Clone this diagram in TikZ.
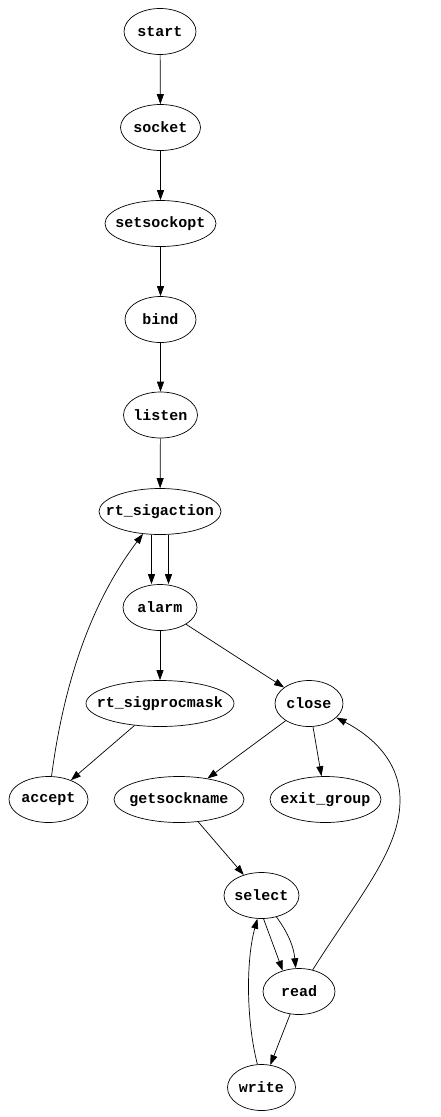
\documentclass[tikz,border=0pt]{standalone}
\usepackage{fontspec}
\setmonofont{Liberation Mono}
\usetikzlibrary{shapes.geometric,arrows.meta}
\newcommand{\sysname}[1]{\makebox[0pt]{#1}}

\begin{document}
\begin{tikzpicture}[x=1pt,y=-1pt,line width=0.7pt,
        >={Triangle[length=10pt,width=7pt]},
        sysnode/.style={draw, ellipse, inner sep=0pt, minimum height=46pt, minimum width=#1,
            font=\ttfamily\bfseries\fontsize{15pt}{15pt}\selectfont}]
        \useasboundingbox (0,0) rectangle (440,1117);
        
        % Draw the setup calls
        \node[sysnode=72pt] (start) at (160,31.5) {\sysname{start}};
        \node[sysnode=80pt] (socket) at (160.5,127.5) {\sysname{socket}};
        \node[sysnode=111pt] (setsockopt) at (160.5,223.5) {\sysname{setsockopt}};
        \node[sysnode=71pt] (bind) at (160.5,319.5) {\sysname{bind}};
        \node[sysnode=74pt] (listen) at (160.5,415) {\sysname{listen}};
        \node[sysnode=122pt] (rt_sigaction) at (160,511.5) {\sysname{rt\_sigaction}};
        \node[sysnode=74pt] (alarm) at (160,607.5) {\sysname{alarm}};
        
        % Draw the calls below alarm
        \node[sysnode=148pt] (rt_sigprocmask) at (160,703.5) {\sysname{rt\_sigprocmask}};
        \node[sysnode=68pt] (close) at (309,703.5) {\sysname{close}};
        \node[sysnode=79pt] (accept) at (48.5,799.5) {\sysname{accept}};
        \node[sysnode=130pt] (getsockname) at (179,799.5) {\sysname{getsockname}};
        \node[sysnode=111pt] (exit_group) at (325.5,799.5) {\sysname{exit\_group}};
        
        % Draw the loop calls
        \node[sysnode=75pt] (select) at (261.5,895.5) {\sysname{select}};
        \node[sysnode=72pt] (read) at (299,991.5) {\sysname{read}};
        \node[sysnode=68pt] (write) at (261.5,1087.5) {\sysname{write}};
        
        % Draw the straight chain
        \draw[->] (start) -- (socket);
        \draw[->] (socket) -- (setsockopt);
        \draw[->] (setsockopt) -- (bind);
        \draw[->] (bind) -- (listen);
        \draw[->] (listen) -- (rt_sigaction);
        \draw[->] ([xshift=-8.5pt]rt_sigaction.south) -- ([xshift=-8.5pt]alarm.north);
        \draw[->] ([xshift=8.5pt]rt_sigaction.south) -- ([xshift=8.5pt]alarm.north);
        
        % Draw the branches
        \draw[->] (alarm) -- (rt_sigprocmask);
        \draw[->] (alarm) -- (close);
        \draw[->] (rt_sigprocmask) -- (accept);
        \draw[->] (accept) .. controls (68,650) and (108,580) .. (rt_sigaction);
        \draw[->] (close) -- (getsockname);
        \draw[->] (close) -- (exit_group);
        \draw[->] (getsockname) -- (select);
        
        % Draw the select loop
        \draw[->] (select.-85) -- (read.128);
        \draw[->] (select.-55) to[bend left=15] (read.98);
        \draw[->] (read) -- (write);
        \draw[->] (write.100) .. controls (246,1020) and (246,960) .. (select.-100);
        \draw[->] (read) .. controls (360,895) and (400,850) .. (400,800) .. controls (400,760) and (370,735) .. (close);
        
    \end{tikzpicture}
\end{document}
